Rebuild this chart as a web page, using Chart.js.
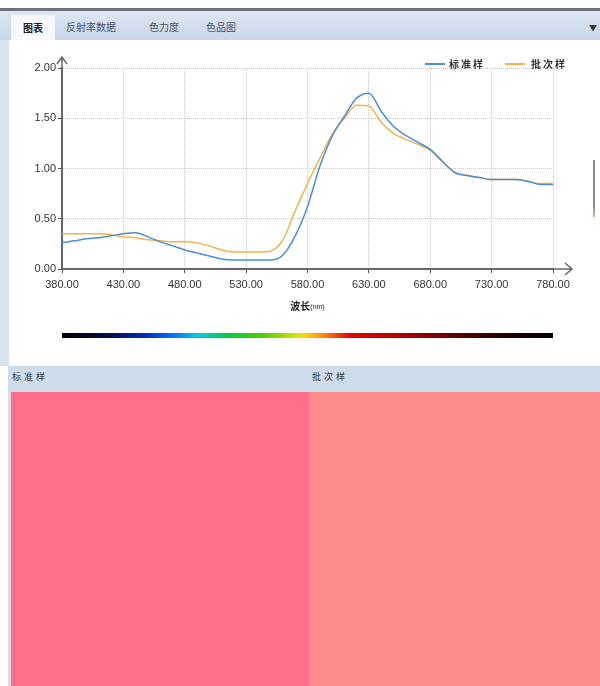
<!DOCTYPE html>
<html>
<head>
<meta charset="utf-8">
<script src="https://cdn.jsdelivr.net/npm/chart.js@4"></script>
<style>
  body { margin: 0; width: 600px; height: 686px; position: relative; overflow: hidden; background: #fff;
         font-family: "Noto Sans CJK SC", "Liberation Sans", sans-serif; }
  .abs { position: absolute; }
  #topline { top: 8px; left: 0; width: 600px; height: 3px; background: #6b7380; }
  #tabs { top: 11px; left: 0; width: 600px; height: 29px; background: linear-gradient(#dde6f2, #c8d6e9); }
  .tab { top: 11px; height: 29px; line-height: 32px; font-size: 10px; color: #4a5670; }
  #tabSel { left: 11px; width: 44px; top: 15px; height: 25px; line-height: 25px; background: #f6f8fc;
            text-align: center; font-weight: bold; color: #222; }
  #drop { top: 22px; right: 3px; font-size: 8px; color: #333; }
  #panel { top: 40px; left: 0; width: 600px; height: 326px; background: #fff; border-left: 9px solid #d9e4f1; box-sizing: border-box; }
  #wrap { top: 40px; left: 10px; width: 590px; height: 310px; }
  .leg { top: 56px; font-size: 10px; color: #333; letter-spacing: 2px; font-weight: bold; }
  .legline { top: 63px; width: 20px; height: 2px; }
  #scrollmark { top: 160px; left: 593px; width: 2px; height: 57px; background: linear-gradient(#8a8a8a 80%, #9fd0a0); }
  #hdr { top: 366px; left: 8px; width: 592px; height: 26px; background: #cfdceb; }
  .hl { top: 370px; font-size: 9px; color: #333; letter-spacing: 3px; }
  #edge { top: 392px; left: 8px; width: 3px; height: 294px; background: #d8deef; }
  #pnlA { top: 392px; left: 11px; width: 298px; height: 294px; background: #ff6e8a; }
  #pnlB { top: 392px; left: 309px; width: 291px; height: 294px; background: #ff8b8a; }
</style>
</head>
<body>
<div id="topline" class="abs"></div>
<div id="tabs" class="abs"></div>
<div id="tabSel" class="abs tab">图表</div>
<div class="abs tab" style="left:66px">反射率数据</div>
<div class="abs tab" style="left:149px">色力度</div>
<div class="abs tab" style="left:206px">色品图</div>
<div id="drop" class="abs">▼</div>
<div id="panel" class="abs"></div>
<div id="wrap" class="abs"><canvas id="spectrum"></canvas></div>
<div class="abs legline" style="left:425px;background:#4a8fd8"></div>
<div class="abs leg" style="left:449px">标准样</div>
<div class="abs legline" style="left:505px;background:#f5b24c"></div>
<div class="abs leg" style="left:531px">批次样</div>
<div id="scrollmark" class="abs"></div>
<div id="hdr" class="abs"></div>
<div class="abs hl" style="left:12px">标准样</div>
<div class="abs hl" style="left:312px">批次样</div>
<div id="edge" class="abs"></div>
<div id="pnlA" class="abs"></div>
<div id="pnlB" class="abs"></div>
<script>
// wavelengths (nm) and reflectance values
const wavelengths = [380, 390, 400, 410, 420, 430, 440, 450, 460, 470, 480, 490, 500, 510, 520, 530, 540, 550, 560, 570,
    580, 590, 600, 610, 620, 630, 640, 650, 660, 670, 680, 690, 700, 710, 720, 730, 740, 750, 760, 770, 780];
const standardSample = [0.26, 0.28, 0.30, 0.31, 0.33, 0.35, 0.36, 0.32, 0.27, 0.23, 0.19, 0.16, 0.13, 0.10, 0.09, 0.09, 0.09, 0.09, 0.14, 0.33,
    0.62, 1.02, 1.32, 1.52, 1.70, 1.75, 1.57, 1.42, 1.33, 1.26, 1.19, 1.07, 0.96, 0.93, 0.91, 0.89, 0.89, 0.89, 0.87, 0.84, 0.84];
const batchSample = [0.35, 0.35, 0.35, 0.35, 0.34, 0.32, 0.31, 0.29, 0.28, 0.27, 0.27, 0.26, 0.23, 0.19, 0.17, 0.17, 0.17, 0.18, 0.29, 0.58,
    0.85, 1.10, 1.34, 1.50, 1.63, 1.62, 1.46, 1.35, 1.29, 1.24, 1.18, 1.07, 0.96, 0.93, 0.91, 0.89, 0.89, 0.89, 0.87, 0.85, 0.85];
const seriesNames = ['标准样', '批次样'];
const yTicks = [0, 0.5, 1, 1.5, 2];

// colour stops of the spectrum bar under the chart
const spectrumStops = [[380, '#000000'], [420, '#0a0a50'], [450, '#0030d0'], [470, '#0070ff'], [490, '#00c8e0'],
    [515, '#00d040'], [545, '#50d000'], [575, '#e8e800'], [592, '#ff9000'], [615, '#e80000'], [660, '#b00000'],
    [700, '#600000'], [740, '#200000'], [780, '#000000']];

const toPoints = (vals) => wavelengths.map((w, i) => ({ x: w, y: vals[i] }));

// arrows, axis title and spectrum bar
const extras = {
    id: 'extras',
    afterDraw(chart) {
        const { ctx, chartArea: a, scales: { x } } = chart;
        ctx.save();
        ctx.strokeStyle = '#666';
        ctx.lineWidth = 1.5;
        ctx.beginPath();
        ctx.moveTo(a.left, a.top); ctx.lineTo(a.left, a.top - 11);
        ctx.moveTo(a.left - 5, a.top - 4); ctx.lineTo(a.left, a.top - 11); ctx.lineTo(a.left + 5, a.top - 4);
        ctx.moveTo(a.right, a.bottom); ctx.lineTo(a.right + 19, a.bottom);
        ctx.moveTo(a.right + 12, a.bottom - 6); ctx.lineTo(a.right + 19, a.bottom); ctx.lineTo(a.right + 12, a.bottom + 6);
        ctx.stroke();

        // axis title
        const cx = x.getPixelForValue(580);
        ctx.fillStyle = '#222';
        ctx.textBaseline = 'middle';
        ctx.font = 'bold 10px "Noto Sans CJK SC"';
        const w1 = ctx.measureText('波长').width;
        ctx.font = '7px "Liberation Sans"';
        const w2 = ctx.measureText('(nm)').width;
        const sx = cx - (w1 + w2) / 2;
        ctx.font = 'bold 10px "Noto Sans CJK SC"';
        ctx.textAlign = 'left';
        ctx.fillText('波长', sx, a.bottom + 37);
        ctx.font = '7px "Liberation Sans"';
        ctx.fillText('(nm)', sx + w1, a.bottom + 38);

        // spectrum bar
        const x0 = x.getPixelForValue(380), x1 = x.getPixelForValue(780);
        const g = ctx.createLinearGradient(x0, 0, x1, 0);
        spectrumStops.forEach(s => g.addColorStop((s[0] - 380) / 400, s[1]));
        ctx.fillStyle = g;
        ctx.fillRect(x0, a.bottom + 64, x1 - x0, 5);
        ctx.restore();
    }
};

const config = {
    type: 'line',
    data: {
        datasets: [{
            label: seriesNames[0],
            data: toPoints(standardSample),
            borderColor: '#4a8fd8',
            borderWidth: 1.5,
            pointRadius: 0,
            cubicInterpolationMode: 'monotone'
        }, {
            label: seriesNames[1],
            data: toPoints(batchSample),
            borderColor: '#f5b24c',
            borderWidth: 1.5,
            pointRadius: 0,
            cubicInterpolationMode: 'monotone'
        }]
    },
    options: {
        responsive: true,
        maintainAspectRatio: false,
        animation: false,
        layout: { padding: { top: 28, right: 47, bottom: 61, left: 0 } },
        plugins: { legend: { display: false }, tooltip: { enabled: false } },
        scales: {
            x: {
                type: 'linear', min: 380, max: 780,
                afterFit: (s) => { s.height = 20; },
                afterBuildTicks: (s) => { s.ticks = wavelengths.filter(w => (w - 380) % 50 === 0).map(v => ({ value: v })); },
                ticks: { callback: (v) => Number(v).toFixed(2), color: '#333', font: { family: 'Liberation Sans', size: 11 }, padding: 5, maxRotation: 0 },
                grid: { color: '#c8c8c8', tickColor: '#555', tickLength: 4, tickBorderDash: [] },
                border: { color: '#666', width: 2, dash: [1, 1] }
            },
            y: {
                min: 0, max: 2,
                afterFit: (s) => { s.width = 52; },
                afterBuildTicks: (s) => { s.ticks = yTicks.map(v => ({ value: v })); },
                ticks: { callback: (v) => Number(v).toFixed(2), color: '#333', font: { family: 'Liberation Sans', size: 11 }, padding: 2 },
                grid: { color: '#c8c8c8', tickColor: '#555', tickLength: 4, tickBorderDash: [] },
                border: { color: '#666', width: 2, dash: [1, 1] }
            }
        }
    },
    plugins: [extras]
};

const spectrumChart = new Chart(document.getElementById('spectrum'), config);
</script>
</body>
</html>
